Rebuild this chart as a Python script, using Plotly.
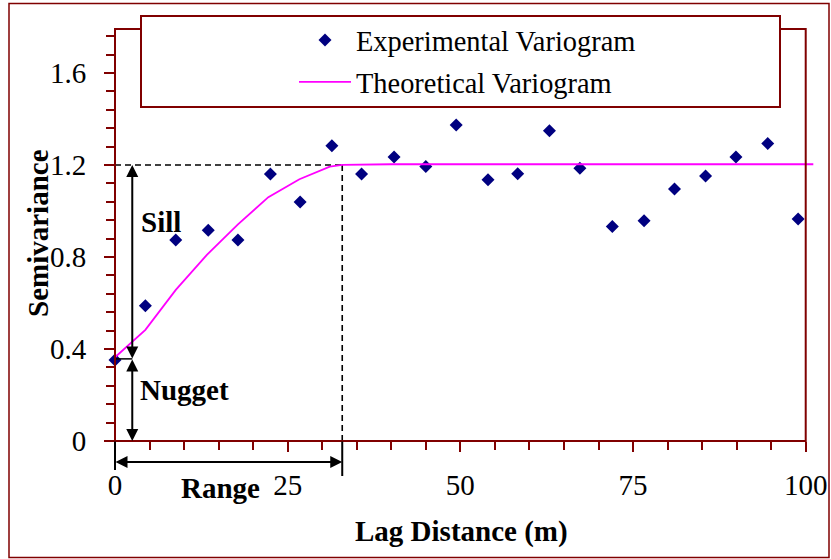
import plotly.graph_objects as go

# ---- data ----
exp_lag = [0, 4.4, 8.8, 13.5, 17.8, 22.5, 26.8, 31.4, 35.7, 40.4, 45.0, 49.4,
           54.0, 58.3, 62.9, 67.3, 72.0, 76.6, 81.0, 85.5, 89.9, 94.5, 98.9]
exp_gamma = [0.352, 0.588, 0.874, 0.916, 0.874, 1.161, 1.039, 1.283, 1.161, 1.235,
             1.193, 1.374, 1.136, 1.162, 1.349, 1.186, 0.932, 0.957, 1.096, 1.152,
             1.235, 1.293, 0.965]
theo_lag = [0, 4.4, 8.8, 13.3, 17.8, 22.2, 26.7, 31.1, 32.9, 40.0, 101.1]
theo_gamma = [0.364, 0.483, 0.657, 0.809, 0.942, 1.06, 1.138, 1.193, 1.2, 1.203, 1.203]

nugget = 0.357
sill = 1.2
range_a = 32.9

x_ticks = [0, 25, 50, 75, 100]
y_ticks = [0, 0.4, 0.8, 1.2, 1.6]

X_MAX = 101.2
Y_MAX = 1.791

MAROON = "#800000"
FONT = "Liberation Serif"

W, H = 831, 559
ML, MR, MT, MB = 115, 17, 29, 118
PW, PH = W - ML - MR, H - MT - MB


def px(xp):
    return (xp - ML) / PW


def py(yp):
    return (H - MB - yp) / PH


def yfrac(v):
    return v / Y_MAX


fig = go.Figure()
fig.add_trace(go.Scatter(
    x=exp_lag, y=exp_gamma, mode="markers", name="Experimental Variogram",
    marker=dict(symbol="diamond", size=10, color="#000080"),
    legendgroup="a", cliponaxis=False))
fig.add_trace(go.Scatter(
    x=theo_lag, y=theo_gamma, mode="lines", name="Theoretical Variogram",
    line=dict(color="#FF00FF", width=1.8), legendgroup="b"))

shapes = []
# dashed guide lines
shapes.append(dict(type="line", xref="x", yref="y", x0=0, x1=range_a, y0=sill, y1=sill,
                   line=dict(color="black", width=1.6, dash="6px,4px"), layer="below"))
shapes.append(dict(type="line", xref="x", yref="y", x0=range_a, x1=range_a, y0=0, y1=sill,
                   line=dict(color="black", width=1.6, dash="6px,4px"), layer="below"))
# small horizontal nugget marker
shapes.append(dict(type="line", xref="x", yref="y", x0=0, x1=2.5, y0=nugget, y1=nugget,
                   line=dict(color="black", width=1.5)))
# plot frame
shapes.append(dict(type="rect", xref="x domain", yref="y domain", x0=0, x1=100 / X_MAX,
                   y0=0, y1=1, line=dict(color=MAROON, width=2)))
# legend box
shapes.append(dict(type="rect", xref="paper", yref="paper", x0=px(141), x1=px(780),
                   y0=py(107), y1=py(16), line=dict(color=MAROON, width=2),
                   fillcolor="white", layer="above"))
# outer border
shapes.append(dict(type="rect", xref="paper", yref="paper", x0=px(9), x1=px(829),
                   y0=py(557.5), y1=py(3.5), line=dict(color=MAROON, width=1.5)))

annotations = []


def arrow_v(x, y0, y1, both=True, head=2):
    annotations.append(dict(
        x=x, y=y1, ax=x, ay=y0, xref="x", yref="y", axref="x", ayref="y",
        text="", showarrow=True, arrowhead=head, startarrowhead=head,
        arrowside="end+start" if both else "end", arrowsize=1.2, startarrowsize=1.2,
        arrowwidth=2, arrowcolor="black", standoff=0, startstandoff=0,
        font=dict(size=1), borderpad=0))


arrow_v(2.5, nugget, sill)          # sill
arrow_v(2.5, nugget, 0)             # nugget
arrow_v(0, 0, -0.126, both=False, head=0)
arrow_v(range_a, 0, -0.152, both=False, head=0)

# range arrow (below the axis -> paper y)
annotations.append(dict(
    x=range_a, y=yfrac(-0.091), ax=0, ay=0, xref="x", yref="paper", axref="x",
    ayref="pixel", text="", showarrow=True, arrowhead=2, startarrowhead=2,
    arrowside="end+start", arrowsize=1.2, startarrowsize=1.2, arrowwidth=2,
    arrowcolor="black", standoff=0, startstandoff=0, font=dict(size=1), borderpad=0))

bold = dict(family=FONT, size=29, color="black")
annotations.append(dict(x=6.7, y=0.952, xref="x", yref="y", text="<b>Sill</b>",
                        showarrow=False, font=bold, xanchor="center", yanchor="middle"))
annotations.append(dict(x=10.0, y=0.222, xref="x", yref="y", text="<b>Nugget</b>",
                        showarrow=False, font=bold, xanchor="center", yanchor="middle"))
annotations.append(dict(x=15.3, y=yfrac(-0.204), xref="x", yref="paper",
                        text="<b>Range</b>", showarrow=False, font=bold,
                        xanchor="center", yanchor="middle"))
annotations.append(dict(x=px(461), y=py(531), xref="paper", yref="paper",
                        text="<b>Lag Distance (m)</b>", showarrow=False, font=bold,
                        xanchor="center", yanchor="middle"))
annotations.append(dict(x=px(38), y=py(233), xref="paper", yref="paper",
                        text="<b>Semivariance</b>", textangle=-90, showarrow=False,
                        font=bold, xanchor="center", yanchor="middle"))

tickfont = dict(family=FONT, size=29, color="black")

fig.update_layout(
    width=W, height=H, margin=dict(l=ML, r=MR, t=MT, b=MB, autoexpand=False),
    paper_bgcolor="white", plot_bgcolor="white",
    font=dict(family=FONT, size=27, color="black"),
    shapes=shapes, annotations=annotations,
    legend=dict(x=px(294), y=py(15), xanchor="left", yanchor="top",
                bgcolor="rgba(0,0,0,0)", borderwidth=0, itemwidth=52,
                tracegroupgap=2, font=dict(family=FONT, size=28.4, color="black")),
    xaxis=dict(range=[0, X_MAX], tickvals=x_ticks, ticks="outside", ticklen=10,
               tickwidth=1.5, tickcolor=MAROON, showgrid=False, zeroline=False,
               showline=False, ticklabelstandoff=8, tickfont=tickfont, automargin=False,
               minor=dict(dtick=5, tick0=0, ticks="outside", ticklen=8,
                          tickwidth=1.5, tickcolor=MAROON, showgrid=False)),
    yaxis=dict(range=[0, Y_MAX], tickvals=y_ticks, ticks="outside", ticklen=10,
               tickwidth=1.5, tickcolor=MAROON, showgrid=False, zeroline=False,
               showline=False, ticklabelstandoff=12, tickfont=tickfont, automargin=False,
               minor=dict(dtick=0.08, tick0=0, ticks="outside", ticklen=8,
                          tickwidth=1.5, tickcolor=MAROON, showgrid=False)),
)

fig.write_html("out.html", config={"displayModeBar": False},
               post_script="document.body.style.margin='0';")
